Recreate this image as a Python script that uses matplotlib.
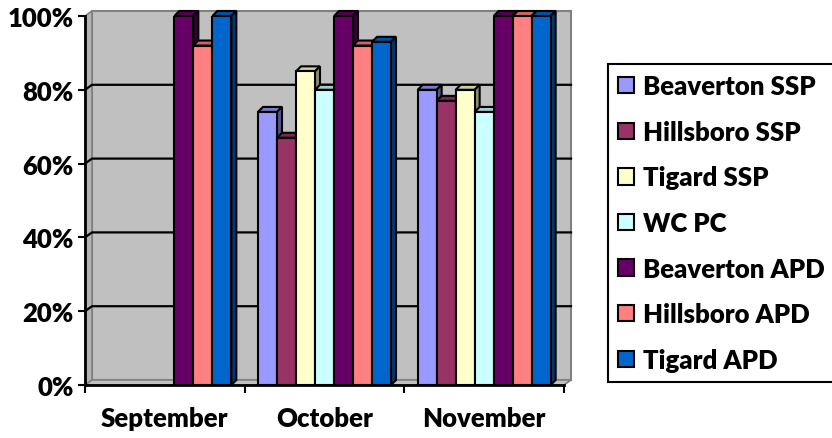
import matplotlib
matplotlib.use('Agg')
import matplotlib.pyplot as plt
from matplotlib.patches import Polygon, Patch
from matplotlib.lines import Line2D
import numpy as np
from matplotlib.colors import to_rgb

categories = ['September', 'October', 'November']
series_names = ['Beaverton SSP', 'Hillsboro SSP', 'Tigard SSP', 'WC PC',
                'Beaverton APD', 'Hillsboro APD', 'Tigard APD']
beaverton_ssp = [np.nan, 0.74, 0.80]
hillsboro_ssp = [np.nan, 0.67, 0.77]
tigard_ssp = [np.nan, 0.85, 0.80]
wc_pc = [np.nan, 0.80, 0.74]
beaverton_apd = [1.00, 1.00, 1.00]
hillsboro_apd = [0.92, 0.92, 1.00]
tigard_apd = [1.00, 0.93, 1.00]
series_values = [beaverton_ssp, hillsboro_ssp, tigard_ssp, wc_pc,
                 beaverton_apd, hillsboro_apd, tigard_apd]
colors = ['#9999FF', '#993366', '#FFFFCC', '#CCFFFF', '#660066', '#FF8080', '#0066CC']
yticks = [0, 0.2, 0.4, 0.6, 0.8, 1.0]
ytick_labels = ['0%', '20%', '40%', '60%', '80%', '100%']

FONT = 'Lato'
FW = 'heavy'
FS = 18.5
W, H = 832, 439
fig = plt.figure(figsize=(W / 100, H / 100), dpi=100)
x0, x1, y0, y1 = 85, 564, 386, 17
ax = fig.add_axes([x0 / W, 1 - y0 / H, (x1 - x0) / W, (y0 - y1) / H])
ax.set_xlim(-0.5, 2.5)
ax.set_ylim(0, 1)
ax.patch.set_visible(False)

ux = (x1 - x0) / 3.0
uy = (y0 - y1) / 1.0


def off(px, py):
    return px / ux, py / uy


# walls
wdx, wdy = off(7, 5)
ax.add_patch(Polygon([(-0.5 + wdx, wdy), (2.5 + wdx, wdy), (2.5 + wdx, 1 + wdy), (-0.5 + wdx, 1 + wdy)],
                     closed=True, fc='#C0C0C0', ec='#808080', lw=1.5, zorder=0, clip_on=False))
ax.add_patch(Polygon([(-0.5, 0), (-0.5 + wdx, wdy), (-0.5 + wdx, 1 + wdy), (-0.5, 1)],
                     closed=True, fc='#B4B4B4', ec='#808080', lw=1.2, zorder=1, clip_on=False))
ax.add_patch(Polygon([(-0.5, 0), (2.5, 0), (2.5 + wdx, wdy), (-0.5 + wdx, wdy)],
                     closed=True, fc='#C0C0C0', ec='#808080', lw=1.2, zorder=1, clip_on=False))
for v in yticks[1:-1]:
    ax.add_line(Line2D([-0.5, -0.5 + wdx, 2.5 + wdx], [v, v + wdy, v + wdy],
                       color='black', lw=1.6, zorder=2, clip_on=False))

# bars
n = len(series_names)
bw = 19 / ux
bdx, bdy = off(5, 5)
xs = np.arange(len(categories))
for k, (vals, col) in enumerate(zip(series_values, colors)):
    pos = xs + (k - (n - 1) / 2) * bw
    rgb = np.array(to_rgb(col))
    top_c = rgb * 0.8
    side_c = rgb * 0.55
    ax.bar(pos, vals, width=bw, color=col, edgecolor='black', linewidth=1.5,
           zorder=11 + 2 * k, label=series_names[k])
    for p, v in zip(pos, vals):
        if np.isnan(v):
            continue
        L = p - bw / 2
        R = p + bw / 2
        ax.add_patch(Polygon([(L, v), (R, v), (R + bdx, v + bdy), (L + bdx, v + bdy)], closed=True,
                             fc=top_c, ec='black', lw=1.5, zorder=10 + 2 * k, clip_on=False))
        ax.add_patch(Polygon([(R, 0), (R + bdx, bdy), (R + bdx, v + bdy), (R, v)], closed=True,
                             fc=side_c, ec='black', lw=1.5, zorder=10 + 2 * k, clip_on=False))

# axes
for s in ['top', 'right']:
    ax.spines[s].set_visible(False)
for s in ['left', 'bottom']:
    ax.spines[s].set_color('black')
    ax.spines[s].set_linewidth(2)
    ax.spines[s].set_zorder(30)
ax.set_yticks(yticks)
ax.set_yticklabels(ytick_labels, fontfamily=FONT, fontweight=FW, fontsize=FS)
ax.tick_params(axis='y', direction='out', length=5, width=1.5, pad=3)
ax.set_xticks(xs)
ax.set_xticklabels(categories, fontfamily=FONT, fontweight=FW, fontsize=FS)
ax.set_xticks([-0.5, 0.5, 1.5, 2.5], minor=True)
ax.tick_params(axis='x', which='major', length=0, pad=15)
ax.tick_params(axis='x', which='minor', direction='out', length=6, width=1.5)

# legend
handles = [Patch(facecolor=c, edgecolor='black', linewidth=1.5) for c in colors]
leg = fig.legend(handles, series_names, loc='upper left', bbox_to_anchor=(608 / W, 1 - 65 / H),
                 frameon=True, fancybox=False, edgecolor='black', framealpha=1,
                 borderaxespad=0, handlelength=0.6, handleheight=0.6, handletextpad=0.38,
                 labelspacing=0.84, borderpad=0.4,
                 prop={'family': FONT, 'weight': FW, 'size': FS})
leg.get_frame().set_linewidth(1.5)

fig.savefig('out.png', dpi=100)
